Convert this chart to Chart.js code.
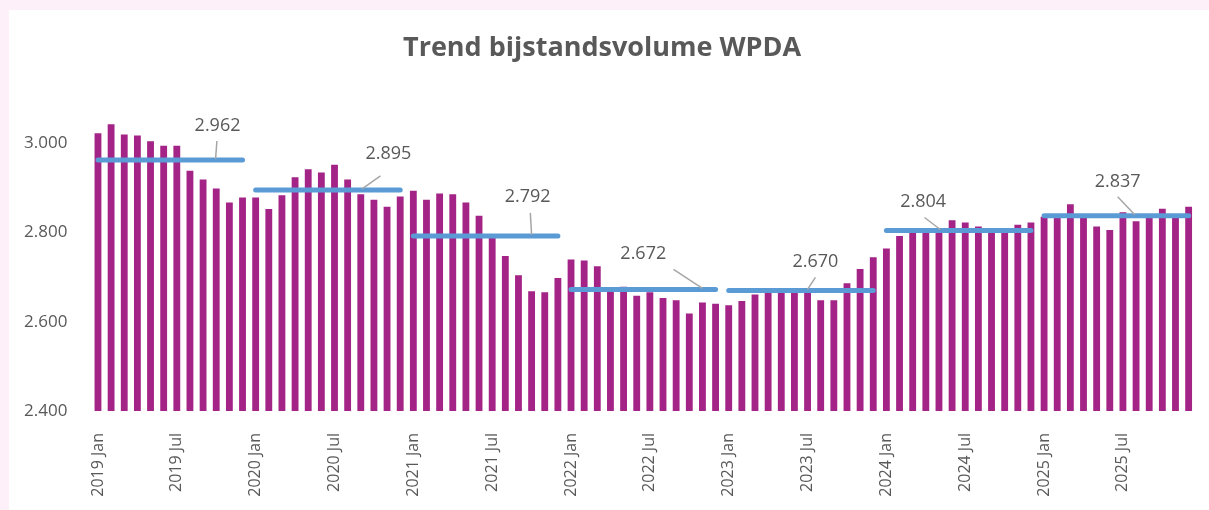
<!DOCTYPE html>
<html>
<head>
<meta charset="utf-8">
<script src="https://cdn.jsdelivr.net/npm/chart.js@4"></script>
<style>
  html, body { margin: 0; padding: 0; background: #fdf0f8; }
  #wrap { position: absolute; left: 9px; top: 10px; width: 1200px; height: 500px; background: #ffffff; }
</style>
</head>
<body>
<div id="wrap"><canvas id="chart"></canvas></div>
<script>
// monthly volume (number of benefit recipients)
var years = [2019, 2020, 2021, 2022, 2023, 2024, 2025];
var months = ['Jan', 'Feb', 'Mrt', 'Apr', 'Mei', 'Jun', 'Jul', 'Aug', 'Sep', 'Okt', 'Nov', 'Dec'];

var vol2019 = [3022, 3042, 3019, 3017, 3004, 2994, 2994, 2938, 2918, 2898, 2867, 2878];
var vol2020 = [2878, 2852, 2883, 2923, 2941, 2934, 2951, 2918, 2885, 2873, 2857, 2880];
var vol2021 = [2893, 2873, 2887, 2885, 2867, 2837, 2795, 2747, 2704, 2668, 2666, 2698];
var vol2022 = [2739, 2737, 2724, 2675, 2678, 2658, 2666, 2653, 2648, 2618, 2643, 2640];
var vol2023 = [2637, 2646, 2661, 2668, 2668, 2670, 2669, 2648, 2648, 2686, 2718, 2744];
var vol2024 = [2764, 2792, 2802, 2800, 2803, 2827, 2822, 2813, 2803, 2803, 2817, 2822];
var vol2025 = [2835, 2838, 2863, 2835, 2813, 2805, 2845, 2825, 2838, 2853, 2838, 2857];

// yearly averages shown as blue lines
var yearAverages = [2962, 2895, 2792, 2672, 2670, 2804, 2837];

// where the average labels sit: [text index, text dy, leader start index, leader start dy, leader end index]
var labelSpots = [
  [9.1, -34, 9.05, -19, 8.95],
  [22.1, -36, 21.5, -14, 20.1],
  [32.7, -39, 32.9, -23, 33.0],
  [41.5, -36, 43.8, -20, 46.0],
  [54.6, -29, 54.6, -13, 54.0],
  [62.8, -29, 62.9, -13, 64.1],
  [77.6, -34, 77.6, -19, 78.9]
];

var labels = [];
years.forEach(function(y) {
  months.forEach(function(m) { labels.push(y + ' ' + m); });
});
var volumes = [].concat(vol2019, vol2020, vol2021, vol2022, vol2023, vol2024, vol2025);

function fmt(v) {
  return (v / 1000).toFixed(3);
}

var datasets = [{
  type: 'bar',
  data: volumes,
  backgroundColor: '#a42386',
  barPercentage: 0.52,
  categoryPercentage: 1,
  order: 2
}];

yearAverages.forEach(function(avg, k) {
  datasets.push({
    type: 'line',
    data: labels.map(function(l, i) { return Math.floor(i / 12) === k ? avg : null; }),
    borderColor: '#5b9bd5',
    borderWidth: 5,
    borderCapStyle: 'round',
    pointRadius: 0,
    spanGaps: false,
    order: 1
  });
});

var avgLabels = {
  id: 'avgLabels',
  afterDatasetsDraw: function(chart) {
    var ctx = chart.ctx;
    var x = chart.scales.x, y = chart.scales.y;
    ctx.save();
    ctx.font = '18px "Open Sans"';
    ctx.fillStyle = '#595959';
    ctx.textAlign = 'center';
    ctx.textBaseline = 'middle';
    ctx.strokeStyle = '#a6a6a6';
    ctx.lineWidth = 1.5;
    yearAverages.forEach(function(avg, k) {
      var s = labelSpots[k];
      var ly = y.getPixelForValue(avg);
      ctx.beginPath();
      ctx.moveTo(x.getPixelForValue(s[2]), ly + s[3]);
      ctx.lineTo(x.getPixelForValue(s[4]), ly - 1);
      ctx.stroke();
      ctx.fillText(fmt(avg), x.getPixelForValue(s[0]), ly + s[1]);
    });
    ctx.restore();
  }
};

var ctx = document.getElementById('chart').getContext('2d');
var myChart = new Chart(ctx, {
  type: 'bar',
  data: { labels: labels, datasets: datasets },
  options: {
    responsive: true,
    maintainAspectRatio: false,
    animation: false,
    events: [],
    layout: { padding: { left: 0, right: 13.8, top: 0, bottom: 0 } },
    plugins: {
      legend: { display: false },
      tooltip: { enabled: false },
      title: {
        display: true,
        text: 'Trend bijstandsvolume WPDA',
        color: '#595959',
        font: { family: '"Open Sans"', size: 27, weight: 'bold', lineHeight: 1.2 },
        padding: { top: 21.8, bottom: 34.1 }
      }
    },
    scales: {
      x: {
        grid: { display: false },
        border: { display: false },
        ticks: {
          autoSkip: false,
          maxRotation: 90,
          minRotation: 90,
          padding: 14,
          color: '#595959',
          font: { family: '"Open Sans"', size: 16 },
          callback: function(v, i) {
            return (i % 6 === 0) ? labels[i] : '';
          }
        },
        afterFit: function(scale) {
          scale.height = 99;
          scale.paddingLeft = 0;
          scale.paddingRight = 0;
        }
      },
      y: {
        min: 2400,
        max: 3100,
        grid: { display: false },
        border: { display: false },
        ticks: {
          stepSize: 200,
          includeBounds: false,
          padding: 16,
          color: '#595959',
          font: { family: '"Open Sans"', size: 17 },
          callback: function(v) { return fmt(v); }
        },
        afterFit: function(scale) { scale.width = 82.4; }
      }
    }
  },
  plugins: [avgLabels]
});
</script>
</body>
</html>
